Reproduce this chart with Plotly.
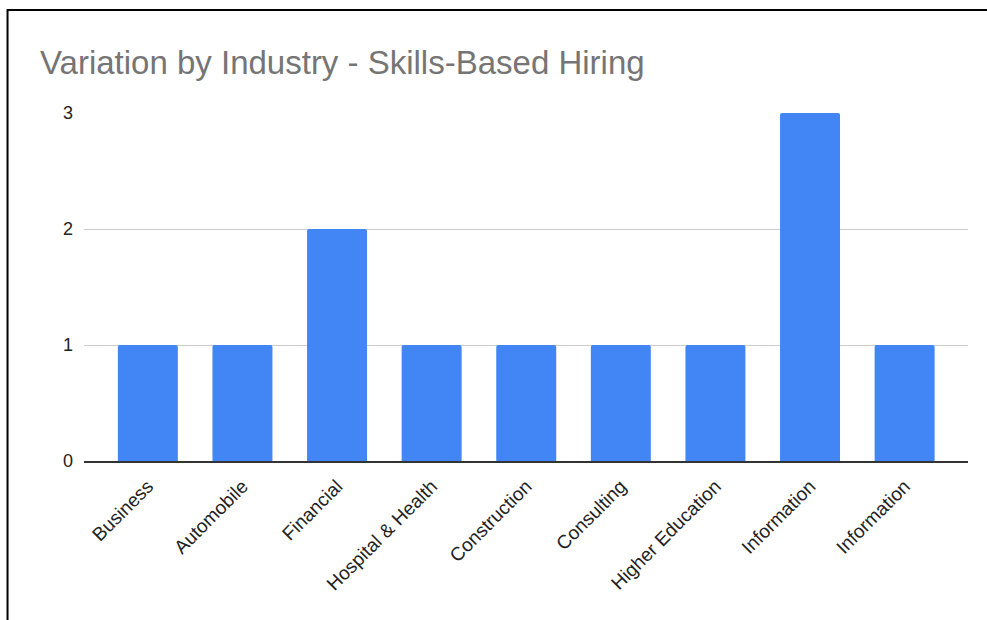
import plotly.graph_objects as go

# Industries and skills-based hiring counts
industries = ["Business", "Automobile", "Financial", "Hospital & Health", "Construction",
              "Consulting", "Higher Education", "Information", "Information"]
counts = [1, 1, 2, 1, 1, 1, 1, 3, 1]
y_ticks = [0, 1, 2, 3]

positions = list(range(len(industries)))

fig = go.Figure(
    go.Bar(
        x=positions,
        y=counts,
        width=0.634,
        marker=dict(color="#4285F4", cornerradius=2, line=dict(width=0)),
        hoverinfo="skip",
    )
)

fig.update_layout(
    width=987,
    height=620,
    margin=dict(l=84, r=19, t=113, b=159),
    paper_bgcolor="white",
    plot_bgcolor="white",
    font=dict(family="Liberation Sans, Arial, sans-serif", color="#222222"),
    title=dict(
        text="Variation by Industry - Skills-Based Hiring",
        x=40 / 987,
        xanchor="left",
        xref="container",
        y=1 - 62 / 620,
        yanchor="middle",
        yref="container",
        font=dict(size=33, color="#757575", family="Liberation Sans, Arial, sans-serif"),
    ),
    showlegend=False,
    xaxis=dict(
        range=[-0.675, 8.67],
        tickmode="array",
        tickvals=positions,
        ticktext=industries,
        tickangle=-45,
        tickfont=dict(size=19, color="#222222"),
        showgrid=False,
        showline=True,
        linecolor="#333333",
        linewidth=1.5,
        ticks="",
        ticklabelstandoff=5,
        zeroline=False,
    ),
    yaxis=dict(
        range=[0, 3],
        tickmode="array",
        tickvals=y_ticks,
        ticktext=[str(v) for v in y_ticks],
        tickfont=dict(size=18, color="#222222"),
        showgrid=True,
        gridcolor="#cccccc",
        gridwidth=1,
        zeroline=False,
        showline=False,
        ticks="",
        ticklabelstandoff=10,
    ),
    shapes=[
        dict(
            type="path",
            xref="paper",
            yref="paper",
            path="M -0.0865 -0.6 L -0.0865 1.296 L 1.1 1.296",
            line=dict(color="black", width=2),
        )
    ],
)

fig.write_html("out.html")
